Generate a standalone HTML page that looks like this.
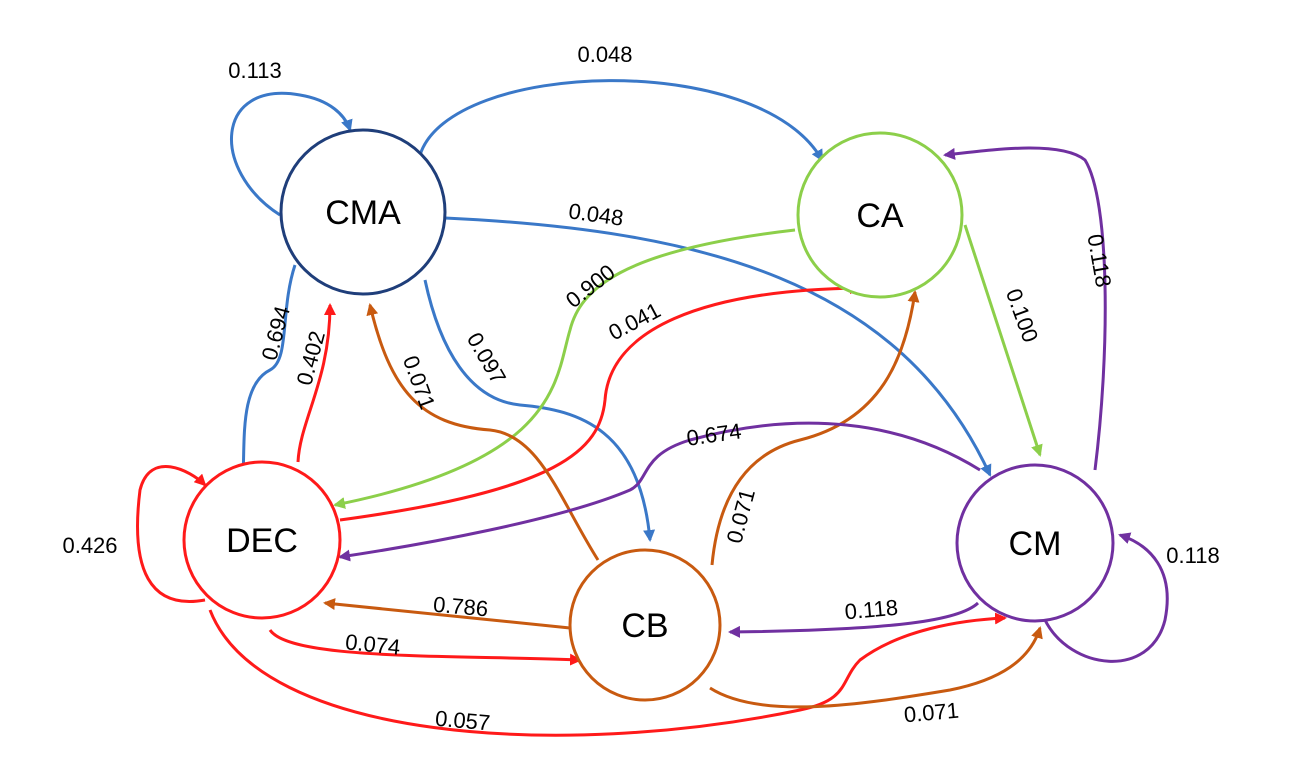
<!DOCTYPE html>
<html><head><meta charset="utf-8"><style>
html,body{margin:0;padding:0;background:#fff;width:1307px;height:773px;overflow:hidden}
svg text{font-family:"Liberation Sans",sans-serif}
</style></head><body>
<svg width="1307" height="773" viewBox="0 0 1307 773" xmlns="http://www.w3.org/2000/svg">
<defs>
<marker id="b" markerWidth="12" markerHeight="12" refX="10" refY="6" orient="auto" markerUnits="userSpaceOnUse" viewBox="0 0 12 12"><path d="M0,0 L12,6 L0,12 z" fill="#3a78c8"/></marker>
<marker id="g" markerWidth="12" markerHeight="12" refX="10" refY="6" orient="auto" markerUnits="userSpaceOnUse" viewBox="0 0 12 12"><path d="M0,0 L12,6 L0,12 z" fill="#8ccf4a"/></marker>
<marker id="r" markerWidth="12" markerHeight="12" refX="10" refY="6" orient="auto" markerUnits="userSpaceOnUse" viewBox="0 0 12 12"><path d="M0,0 L12,6 L0,12 z" fill="#ff1a1a"/></marker>
<marker id="o" markerWidth="12" markerHeight="12" refX="10" refY="6" orient="auto" markerUnits="userSpaceOnUse" viewBox="0 0 12 12"><path d="M0,0 L12,6 L0,12 z" fill="#c85a10"/></marker>
<marker id="p" markerWidth="12" markerHeight="12" refX="10" refY="6" orient="auto" markerUnits="userSpaceOnUse" viewBox="0 0 12 12"><path d="M0,0 L12,6 L0,12 z" fill="#7030a0"/></marker>
</defs>
<g fill="none" stroke-width="3">
<path d="M280,215 C210,170 215,80 300,95 C330,100 345,115 350,130" stroke="#3a78c8" marker-end="url(#b)"/>
<path d="M420,155 C450,60 760,50 822,160" stroke="#3a78c8" marker-end="url(#b)"/>
<path d="M445,218 C700,230 900,280 990,475" stroke="#3a78c8" marker-end="url(#b)"/>
<path d="M295,265 C280,310 290,360 270,370 C240,385 245,440 243,475" stroke="#3a78c8" marker-end="url(#b)"/>
<path d="M425,280 C440,350 470,400 520,405 C580,410 640,430 650,540" stroke="#3a78c8" marker-end="url(#b)"/>
<path d="M795,230 C620,250 580,290 570,330 C555,380 560,460 335,505" stroke="#8ccf4a" marker-end="url(#g)"/>
<path d="M965,225 L1040,455" stroke="#8ccf4a" marker-end="url(#g)"/>
<path d="M298,462 C300,420 330,380 330,305" stroke="#ff1a1a" marker-end="url(#r)"/>
<path d="M340,520 C560,490 600,450 605,400 C610,330 700,290 860,288" stroke="#ff1a1a" marker-end="url(#r)"/>
<path d="M205,600 C150,610 130,570 140,490 C150,450 190,470 205,485" stroke="#ff1a1a" marker-end="url(#r)"/>
<path d="M270,630 C290,660 450,655 580,660" stroke="#ff1a1a" marker-end="url(#r)"/>
<path d="M210,610 C260,740 560,760 800,710 C850,700 840,680 860,660 C900,630 960,620 1005,618" stroke="#ff1a1a" marker-end="url(#r)"/>
<path d="M598,560 C560,500 540,435 490,430 C420,425 390,390 370,305" stroke="#c85a10" marker-end="url(#o)"/>
<path d="M712,565 C720,480 760,450 800,440 C880,420 905,360 915,292" stroke="#c85a10" marker-end="url(#o)"/>
<path d="M570,628 L325,603" stroke="#c85a10" marker-end="url(#o)"/>
<path d="M710,688 C760,720 860,705 950,690 C1000,680 1030,660 1040,628" stroke="#c85a10" marker-end="url(#o)"/>
<path d="M1095,470 C1110,350 1110,200 1085,160 C1060,140 990,150 945,155" stroke="#7030a0" marker-end="url(#p)"/>
<path d="M980,470 C900,420 800,410 690,440 C640,455 650,480 630,490 C560,520 420,545 340,557" stroke="#7030a0" marker-end="url(#p)"/>
<path d="M978,603 C960,620 900,630 730,632" stroke="#7030a0" marker-end="url(#p)"/>
<path d="M1045,620 C1070,670 1150,680 1165,620 C1175,570 1150,545 1120,535" stroke="#7030a0" marker-end="url(#p)"/>
</g>
<g stroke-width="3" fill="#fff">
<circle cx="363" cy="212" r="82" stroke="#1f3e7a"/>
<circle cx="880" cy="215" r="82" stroke="#8ccf4a"/>
<circle cx="262" cy="540" r="78" stroke="#ff1a1a"/>
<circle cx="645" cy="625" r="75" stroke="#c85a10"/>
<circle cx="1035" cy="543" r="78" stroke="#7030a0"/>
</g>
<g font-size="34" text-anchor="middle" fill="#000">
<text x="363" y="224">CMA</text>
<text x="880" y="227">CA</text>
<text x="262" y="552">DEC</text>
<text x="645" y="637">CB</text>
<text x="1035" y="555">CM</text>
</g>
<g font-size="22" text-anchor="middle" fill="#000">
<text x="255" y="78">0.113</text>
<text x="605" y="62">0.048</text>
<text x="595" y="222" transform="rotate(8 595 222)">0.048</text>
<text x="283" y="335" transform="rotate(-75 283 335)">0.694</text>
<text x="318" y="360" transform="rotate(-75 318 360)">0.402</text>
<text x="480" y="362" transform="rotate(60 480 362)">0.097</text>
<text x="412" y="385" transform="rotate(70 412 385)">0.071</text>
<text x="595" y="292" transform="rotate(-38 595 292)">0.900</text>
<text x="638" y="328" transform="rotate(-28 638 328)">0.041</text>
<text x="1015" y="318" transform="rotate(70 1015 318)">0.100</text>
<text x="1092" y="262" transform="rotate(80 1092 262)">0.118</text>
<text x="715" y="442" transform="rotate(-8 715 442)">0.674</text>
<text x="748" y="518" transform="rotate(-75 748 518)">0.071</text>
<text x="90" y="553">0.426</text>
<text x="460" y="614" transform="rotate(5 460 614)">0.786</text>
<text x="372" y="652" transform="rotate(6 372 652)">0.074</text>
<text x="462" y="728" transform="rotate(5 462 728)">0.057</text>
<text x="932" y="720" transform="rotate(-5 932 720)">0.071</text>
<text x="872" y="617" transform="rotate(-5 872 617)">0.118</text>
<text x="1193" y="563">0.118</text>
</g>
</svg>
</body></html>
